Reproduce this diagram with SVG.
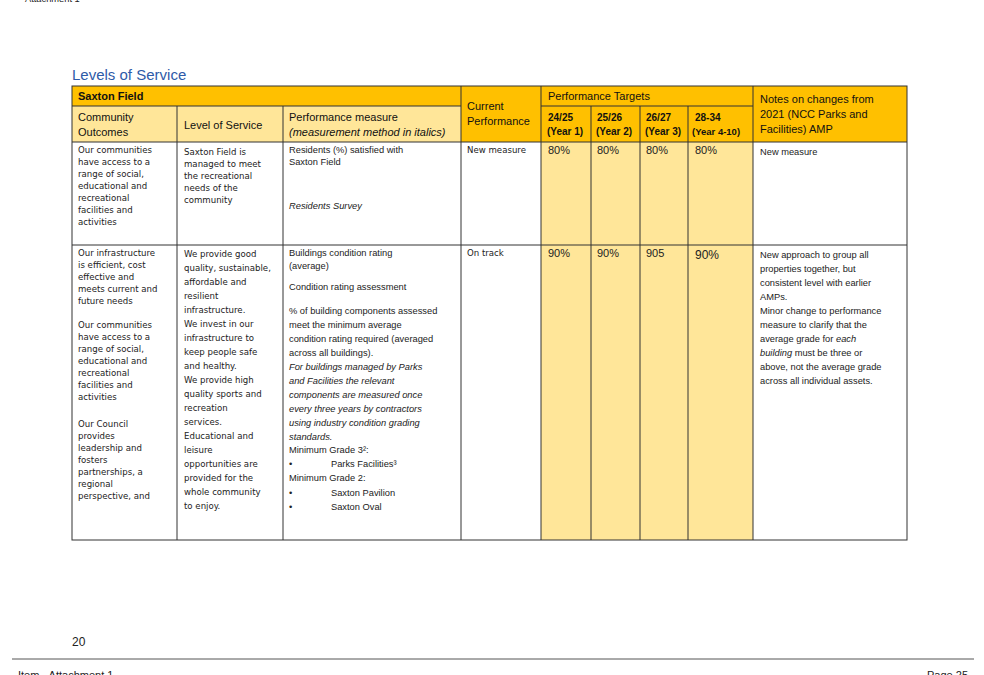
<svg xmlns="http://www.w3.org/2000/svg" width="984" height="675" viewBox="0 0 984 675">
<style>
.o{fill:#FFC000}.y{fill:#FFE699}.w{fill:#fff}
.g{stroke:#333;stroke-width:1;fill:none}
.h{font-family:"Liberation Sans",sans-serif;font-size:11px;fill:#111}
.hb{font-family:"Liberation Sans",sans-serif;font-size:10px;font-weight:bold;fill:#111}
.v{font-family:"DejaVu Sans",sans-serif;font-size:8.6px;fill:#222}
.c{font-family:"Liberation Sans",sans-serif;font-size:9.3px;fill:#222}
.p{font-family:"Liberation Sans",sans-serif;font-size:11px;fill:#222}
.i{font-style:italic}
</style>
<rect width="984" height="675" fill="#fff"/>
<text x="25" y="2" class="c" fill="#444">Attachment 1</text>
<text x="72" y="80" font-family="Liberation Sans,sans-serif" font-size="15" fill="#2E5AA8">Levels of Service</text>
<g id="header">
<rect x="72" y="86" width="389" height="20" class="o"/>
<rect x="72" y="106" width="389" height="36" class="y"/>
<rect x="461" y="86" width="80" height="56" class="o"/>
<rect x="541" y="86" width="212" height="56" class="o"/>
<rect x="753" y="86" width="154" height="56" class="o"/>
<text x="78" y="100" class="hb" style="font-size:11px">Saxton Field</text>
<text x="78" y="121" class="h">Community</text><text x="78" y="136" class="h">Outcomes</text>
<text x="184" y="129" class="h">Level of Service</text>
<text x="289" y="121" class="h">Performance measure</text><text x="289" y="136" class="h i">(measurement method in italics)</text>
<text x="467" y="110" class="h">Current</text><text x="467" y="125" class="h">Performance</text>
<text x="548" y="100" class="h">Performance Targets</text>
<text x="548" y="121" class="hb">24/25</text><text x="547" y="135" class="hb">(Year 1)</text>
<text x="597" y="121" class="hb">25/26</text><text x="596" y="135" class="hb">(Year 2)</text>
<text x="646" y="121" class="hb">26/27</text><text x="645" y="135" class="hb">(Year 3)</text>
<text x="695" y="121" class="hb">28-34</text><text x="692" y="135" class="hb" style="font-size:9.5px">(Year 4-10)</text>
<text x="760" y="103" class="h">Notes on changes from</text><text x="760" y="118" class="h">2021 (NCC Parks and</text><text x="760" y="133" class="h">Facilities) AMP</text>
</g>
<g id="row1">
<rect x="541" y="142" width="212" height="398" class="y"/>
<text class="v"><tspan x="78" y="153">Our communities</tspan><tspan x="78" y="165">have access to a</tspan><tspan x="78" y="177">range of social,</tspan><tspan x="78" y="189">educational and</tspan><tspan x="78" y="201">recreational</tspan><tspan x="78" y="213">facilities and</tspan><tspan x="78" y="225">activities</tspan></text>
<text class="v"><tspan x="184" y="155">Saxton Field is</tspan><tspan x="184" y="167">managed to meet</tspan><tspan x="184" y="179">the recreational</tspan><tspan x="184" y="191">needs of the</tspan><tspan x="184" y="203">community</tspan></text>
<text class="c"><tspan x="289" y="153">Residents (%) satisfied with</tspan><tspan x="289" y="165">Saxton Field</tspan><tspan x="289" y="209" font-style="italic">Residents Survey</tspan></text>
<text x="467" y="153" class="v">New measure</text>
<text x="548" y="154" class="p">80%</text><text x="597" y="154" class="p">80%</text><text x="646" y="154" class="p">80%</text><text x="695" y="154" class="p">80%</text>
<text x="760" y="155" class="c">New measure</text>
</g>
<g id="row2">
<text class="v"><tspan x="78" y="256">Our infrastructure</tspan><tspan x="78" y="268">is efficient, cost</tspan><tspan x="78" y="280">effective and</tspan><tspan x="78" y="292">meets current and</tspan><tspan x="78" y="304">future needs</tspan>
<tspan x="78" y="328">Our communities</tspan><tspan x="78" y="340">have access to a</tspan><tspan x="78" y="352">range of social,</tspan><tspan x="78" y="364">educational and</tspan><tspan x="78" y="376">recreational</tspan><tspan x="78" y="388">facilities and</tspan><tspan x="78" y="400">activities</tspan>
<tspan x="78" y="427">Our Council</tspan><tspan x="78" y="439">provides</tspan><tspan x="78" y="451">leadership and</tspan><tspan x="78" y="463">fosters</tspan><tspan x="78" y="475">partnerships, a</tspan><tspan x="78" y="487">regional</tspan><tspan x="78" y="499">perspective, and</tspan></text>
<text class="v"><tspan x="184" y="257">We provide good</tspan><tspan x="184" y="271">quality, sustainable,</tspan><tspan x="184" y="285">affordable and</tspan><tspan x="184" y="299">resilient</tspan><tspan x="184" y="313">infrastructure.</tspan><tspan x="184" y="327">We invest in our</tspan><tspan x="184" y="341">infrastructure to</tspan><tspan x="184" y="355">keep people safe</tspan><tspan x="184" y="369">and healthy.</tspan><tspan x="184" y="383">We provide high</tspan><tspan x="184" y="397">quality sports and</tspan><tspan x="184" y="411">recreation</tspan><tspan x="184" y="425">services.</tspan><tspan x="184" y="439">Educational and</tspan><tspan x="184" y="453">leisure</tspan><tspan x="184" y="467">opportunities are</tspan><tspan x="184" y="481">provided for the</tspan><tspan x="184" y="495">whole community</tspan><tspan x="184" y="509">to enjoy.</tspan></text>
<text class="c"><tspan x="289" y="256">Buildings condition rating</tspan><tspan x="289" y="269">(average)</tspan><tspan x="289" y="290">Condition rating assessment</tspan><tspan x="289" y="314">% of building components assessed</tspan><tspan x="289" y="328">meet the minimum average</tspan><tspan x="289" y="342">condition rating required (averaged</tspan><tspan x="289" y="356">across all buildings).</tspan>
<tspan x="289" y="370" font-style="italic">For buildings managed by Parks</tspan><tspan x="289" y="384" font-style="italic">and Facilities the relevant</tspan><tspan x="289" y="398" font-style="italic">components are measured once</tspan><tspan x="289" y="412" font-style="italic">every three years by contractors</tspan><tspan x="289" y="426" font-style="italic">using industry condition grading</tspan><tspan x="289" y="440" font-style="italic">standards.</tspan>
<tspan x="289" y="453">Minimum Grade 3²:</tspan><tspan x="289" y="467">•</tspan><tspan x="331" y="467">Parks Facilities³</tspan><tspan x="289" y="481">Minimum Grade 2:</tspan><tspan x="289" y="496">•</tspan><tspan x="331" y="496">Saxton Pavilion</tspan><tspan x="289" y="510">•</tspan><tspan x="331" y="510">Saxton Oval</tspan></text>
<text x="467" y="256" class="v">On track</text>
<text x="548" y="257" class="p">90%</text><text x="597" y="257" class="p">90%</text><text x="646" y="257" class="p">905</text><text x="695" y="259" class="p" style="font-size:12px">90%</text>
<text class="c"><tspan x="760" y="258">New approach to group all</tspan><tspan x="760" y="272">properties together, but</tspan><tspan x="760" y="286">consistent level with earlier</tspan><tspan x="760" y="300">AMPs.</tspan><tspan x="760" y="314">Minor change to performance</tspan><tspan x="760" y="328">measure to clarify that the</tspan><tspan x="760" y="342">average grade for <tspan font-style="italic">each</tspan></tspan><tspan x="760" y="356" font-style="italic">building<tspan font-style="normal"> must be three or</tspan></tspan><tspan x="760" y="370">above, not the average grade</tspan><tspan x="760" y="384">across all individual assets.</tspan></text>
</g>
<g id="connectors" class="g">
<rect x="72" y="86" width="835" height="454"/>
<path d="M72 106H461M541 106H753M72 142H907M72 245H907"/>
<path d="M177 106V540M283 106V540M461 86V540M541 86V540M591 106V540M640 106V540M688 106V540M753 86V540"/>
</g>
<text x="72" y="646" font-family="Liberation Sans,sans-serif" font-size="12" fill="#222">20</text>
<line x1="12" y1="659" x2="974" y2="659" stroke="#555" stroke-width="1"/>
<text x="18" y="679" font-family="Liberation Sans,sans-serif" font-size="11" fill="#222">Item  - Attachment 1</text>
<text x="968" y="679" text-anchor="end" font-family="Liberation Sans,sans-serif" font-size="11" fill="#222">Page 25</text>
</svg>
